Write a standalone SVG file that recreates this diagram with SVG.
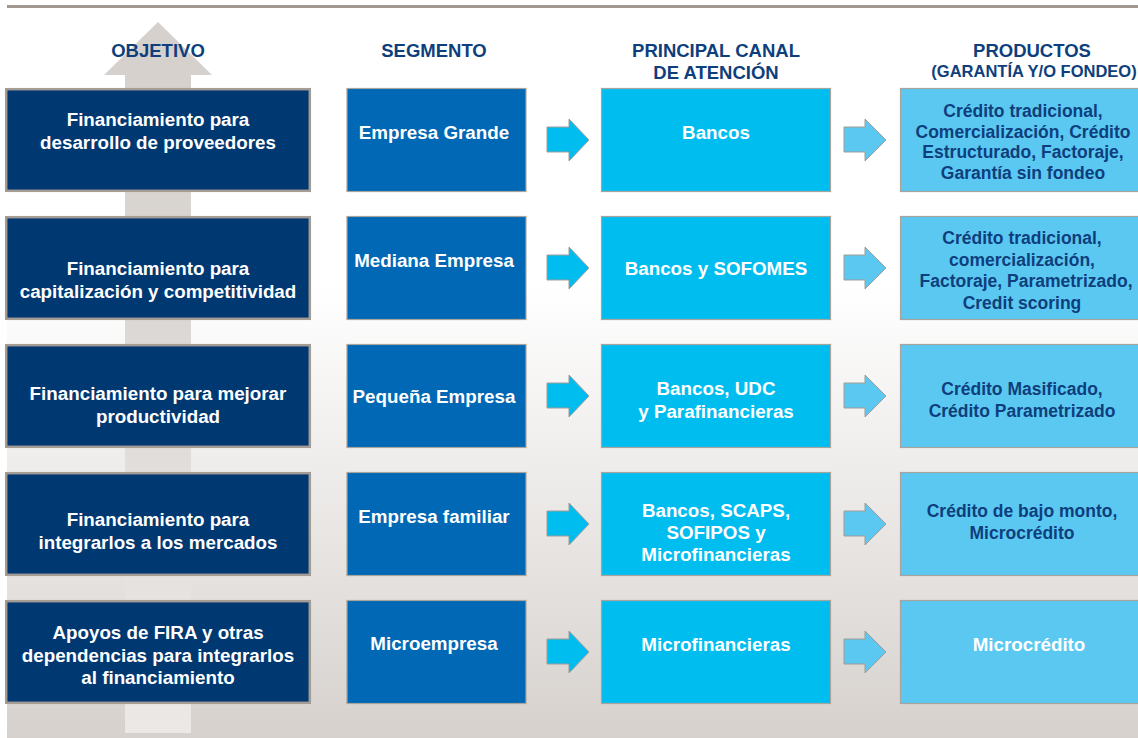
<svg xmlns="http://www.w3.org/2000/svg" width="1138" height="738" viewBox="0 0 1138 738">
<defs>
<linearGradient id="bg" x1="0" y1="0" x2="0" y2="1">
<stop offset="0" stop-color="#ffffff"/>
<stop offset="0.38" stop-color="#ffffff"/>
<stop offset="1" stop-color="#d6d1cd"/>
</linearGradient>
<linearGradient id="shaft" x1="0" y1="0" x2="0" y2="1">
<stop offset="0" stop-color="#d6d1cd"/>
<stop offset="0.4" stop-color="#dcd8d5"/>
<stop offset="1" stop-color="#ebe8e6"/>
</linearGradient>
<style>
.hd{font-family:"Liberation Sans",Arial,sans-serif;font-weight:700;font-size:18.5px;fill:#0e3f7c;text-anchor:middle}
.hs{font-size:16.5px}
.t{font-family:"Liberation Sans",Arial,sans-serif;font-weight:700;font-size:18.8px;fill:#ffffff;text-anchor:middle}
.tp{font-family:"Liberation Sans",Arial,sans-serif;font-weight:700;font-size:17.5px;fill:#0e3f7c;text-anchor:middle}
.c1{fill:#003872;stroke:#a39b94;stroke-width:2.5}
.c2{fill:#0068b4;stroke:#aaa39d;stroke-width:1.2}
.c3{fill:#00bdf0;stroke:#aaa39d;stroke-width:1.2}
.c4{fill:#5bc8f2;stroke:#aaa39d;stroke-width:1.2}
.a3{fill:#00bdf0;stroke:#a39b94;stroke-width:1}
.a4{fill:#5bc8f2;stroke:#a39b94;stroke-width:1}
</style>
</defs>
<rect x="7" y="8" width="1131" height="730" fill="url(#bg)"/>
<rect x="7" y="5" width="1131" height="3" fill="#a39890"/>
<g id="bigarrow">
<rect x="125" y="74" width="66" height="659" fill="url(#shaft)"/>
<polygon points="158,22 212,75 104,75" fill="#d6d1cd"/>
</g>
<g id="headers">
<text class="hd" x="158" y="57">OBJETIVO</text>
<text class="hd" x="434" y="57">SEGMENTO</text>
<text class="hd" x="716" y="57">PRINCIPAL CANAL<tspan x="716" y="79">DE ATENCIÓN</tspan></text>
<text class="hd" x="1032" y="57">PRODUCTOS<tspan class="hs" x="1034" y="77">(GARANTÍA Y/O FONDEO)</tspan></text>
</g>
<g id="connectors">
<polygon class="a3" points="547,127 569,127 569,119 589,140 569,161 569,152 547,152"/>
<polygon class="a4" points="844,127 865,127 865,119 886,140 865,161 865,152 844,152"/>
<polygon class="a3" points="547,255 569,255 569,247 589,268 569,289 569,280 547,280"/>
<polygon class="a4" points="844,255 865,255 865,247 886,268 865,289 865,280 844,280"/>
<polygon class="a3" points="547,383 569,383 569,375 589,396 569,417 569,408 547,408"/>
<polygon class="a4" points="844,383 865,383 865,375 886,396 865,417 865,408 844,408"/>
<polygon class="a3" points="547,511 569,511 569,503 589,524 569,545 569,536 547,536"/>
<polygon class="a4" points="844,511 865,511 865,503 886,524 865,545 865,536 844,536"/>
<polygon class="a3" points="547,639 569,639 569,631 589,652 569,673 569,664 547,664"/>
<polygon class="a4" points="844,639 865,639 865,631 886,652 865,673 865,664 844,664"/>
</g>
<g id="obj1"><rect class="c1" x="6.2" y="89.2" width="303.6" height="101.6"/>
<text class="t" x="158" y="126">Financiamiento para<tspan x="158" y="149">desarrollo de proveedores</tspan></text></g>
<g id="obj2"><rect class="c1" x="6.2" y="217.2" width="303.6" height="101.6"/>
<text class="t" x="158" y="275">Financiamiento para<tspan x="158" y="297.5">capitalización y competitividad</tspan></text></g>
<g id="obj3"><rect class="c1" x="6.2" y="345.2" width="303.6" height="101.6"/>
<text class="t" x="158" y="400">Financiamiento para mejorar<tspan x="158" y="423">productividad</tspan></text></g>
<g id="obj4"><rect class="c1" x="6.2" y="473.2" width="303.6" height="101.6"/>
<text class="t" x="158" y="526">Financiamiento para<tspan x="158" y="549">integrarlos a los mercados</tspan></text></g>
<g id="obj5"><rect class="c1" x="6.2" y="601.2" width="303.6" height="101.6"/>
<text class="t" x="158" y="639">Apoyos de FIRA y otras<tspan x="158" y="661.5">dependencias para integrarlos</tspan><tspan x="158" y="684">al financiamiento</tspan></text></g>

<g id="seg1"><rect class="c2" x="347" y="88.5" width="179" height="103"/><text class="t" x="434" y="139">Empresa Grande</text></g>
<g id="seg2"><rect class="c2" x="347" y="216.5" width="179" height="103"/><text class="t" x="434" y="267">Mediana Empresa</text></g>
<g id="seg3"><rect class="c2" x="347" y="344.5" width="179" height="103"/><text class="t" x="434" y="403">Pequeña Empresa</text></g>
<g id="seg4"><rect class="c2" x="347" y="472.5" width="179" height="103"/><text class="t" x="434" y="523">Empresa familiar</text></g>
<g id="seg5"><rect class="c2" x="347" y="600.5" width="179" height="103"/><text class="t" x="434" y="650">Microempresa</text></g>

<g id="can1"><rect class="c3" x="601.5" y="88.5" width="229" height="103"/><text class="t" x="716" y="139">Bancos</text></g>
<g id="can2"><rect class="c3" x="601.5" y="216.5" width="229" height="103"/><text class="t" x="716" y="275">Bancos y SOFOMES</text></g>
<g id="can3"><rect class="c3" x="601.5" y="344.5" width="229" height="103"/><text class="t" x="716" y="395">Bancos, UDC<tspan x="716" y="417.5">y Parafinancieras</tspan></text></g>
<g id="can4"><rect class="c3" x="601.5" y="472.5" width="229" height="103"/><text class="t" x="716" y="517">Bancos, SCAPS,<tspan x="716" y="539">SOFIPOS y</tspan><tspan x="716" y="561">Microfinancieras</tspan></text></g>
<g id="can5"><rect class="c3" x="601.5" y="600.5" width="229" height="103"/><text class="t" x="716" y="651">Microfinancieras</text></g>

<g id="prod1"><rect class="c4" x="900.5" y="88.5" width="240" height="103"/>
<text class="tp" x="1023" y="117">Crédito tradicional,<tspan x="1023" y="137.5">Comercialización, Crédito</tspan><tspan x="1023" y="158">Estructurado, Factoraje,</tspan><tspan x="1023" y="178.5">Garantía sin fondeo</tspan></text></g>
<g id="prod2"><rect class="c4" x="900.5" y="216.5" width="240" height="103"/>
<text class="tp" x="1022" y="244">Crédito tradicional,<tspan x="1022" y="265.5">comercialización,</tspan><tspan x="1026" y="287">Factoraje, Parametrizado,</tspan><tspan x="1022" y="308.5">Credit scoring</tspan></text></g>
<g id="prod3"><rect class="c4" x="900.5" y="344.5" width="240" height="103"/>
<text class="tp" x="1022" y="395">Crédito Masificado,<tspan x="1022" y="417">Crédito Parametrizado</tspan></text></g>
<g id="prod4"><rect class="c4" x="900.5" y="472.5" width="240" height="103"/>
<text class="tp" x="1022" y="517">Crédito de bajo monto,<tspan x="1022" y="539">Microcrédito</tspan></text></g>
<g id="prod5"><rect class="c4" x="900.5" y="600.5" width="240" height="103"/>
<text class="t" x="1029" y="651">Microcrédito</text></g>
</svg>
